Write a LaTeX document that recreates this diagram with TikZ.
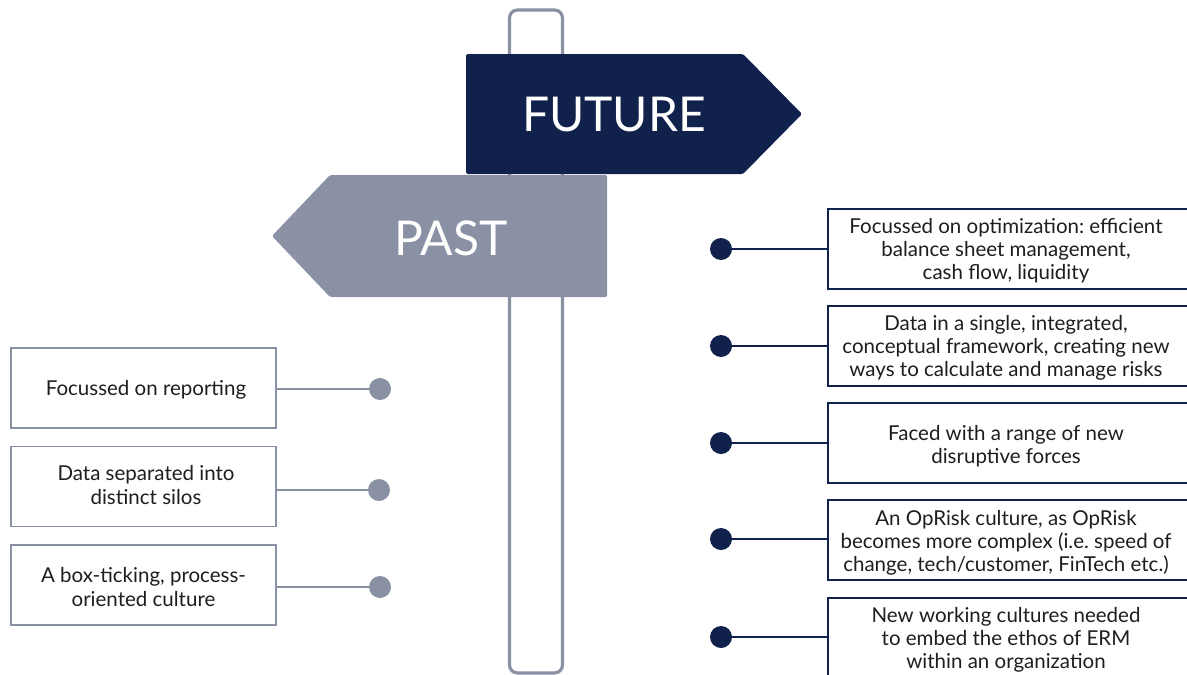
\documentclass[tikz,border=0pt]{standalone}
\usepackage{fontspec}
\setmainfont{Lato}
\definecolor{navy}{HTML}{10214B}
\definecolor{slate}{HTML}{8A91A5}
\definecolor{txt}{HTML}{1E1E1E}
\frenchspacing
\begin{document}
\begin{tikzpicture}[x=1pt,y=-1pt,
  lbox/.style={draw=slate, line width=1.4pt, fill=white, minimum width=265pt, minimum height=80pt, inner sep=0pt, align=center, text=txt, font=\fontsize{20.5}{23.5}\selectfont},
  ltext/.style={align=center, text=txt, inner sep=0pt, font=\fontsize{20.5}{23.5}\selectfont},
  rbox/.style={draw=navy, line width=1.6pt, fill=white, minimum width=372pt, minimum height=80pt, inner sep=0pt},
  rtext/.style={align=center, text=txt, inner sep=0pt, font=\fontsize{20.5}{23.2}\selectfont},
  ldot/.style={circle, fill=slate, minimum size=22pt, inner sep=0pt},
  rdot/.style={circle, fill=navy, minimum size=22pt, inner sep=0pt},
  lline/.style={draw=slate, line width=1.3pt},
  rline/.style={draw=navy, line width=1.3pt},
  signtext/.style={text=white, inner sep=0pt, font=\fontsize{48}{52}\selectfont}
]
\useasboundingbox (0,0) rectangle (1187,675);
\clip (0,0) rectangle (1187,675);
% post
\draw[slate, line width=3.2pt, rounded corners=8pt, fill=white] (509.5,10) rectangle (562.5,673);
% signs
\fill[navy, rounded corners=1.5pt] (466,54) -- (743,54) -- (802,114) -- (743,174) -- (466,174) -- cycle;
\fill[slate, rounded corners=1.5pt] (607,175) -- (330,175) -- (272,236) -- (330,297) -- (607,297) -- cycle;
\node[signtext] (fut) at (614,115) {FUTURE};
\node[signtext] (past) at (451,238) {PAST};
% left side
\node[lbox] (l1) at (143.5,388) {};
\node[lbox] (l2) at (143.5,486.5) {};
\node[lbox] (l3) at (143.5,585) {};
\node[ltext] (lt1) at (146,390) {Focussed on reporting};
\node[ltext] (lt2) at (146,485) {Data separated into\\distinct silos};
\node[ltext] (lt3) at (143.5,587) {A box-ticking, process-\\oriented culture};
\node[ldot] (ld1) at (380,389) {};
\node[ldot] (ld2) at (379,490) {};
\node[ldot] (ld3) at (380,587) {};
\draw[lline] (l1.east |- ld1) -- (ld1);
\draw[lline] (l2.east |- ld2) -- (ld2);
\draw[lline] (l3.east |- ld3) -- (ld3);
% right side
\node[rbox] (r1) at (1014,249) {};
\node[rbox] (r2) at (1014,346) {};
\node[rbox] (r3) at (1014,443) {};
\node[rbox] (r4) at (1014,540) {};
\node[rbox] (r5) at (1014,638) {};
\node[rtext] (t1) at (1006,251) {Focussed on optimization: efficient\\balance sheet management,\\cash flow, liquidity};
\node[rtext] (t2) at (1006,348) {Data in a single, integrated,\\conceptual framework, creating new\\ways to calculate and manage risks};
\node[rtext] (t3) at (1006,446) {Faced with a range of new\\disruptive forces};
\node[rtext] (t4) at (1006,543) {An OpRisk culture, as OpRisk\\becomes more complex (i.e. speed of\\change, tech/customer, FinTech etc.)};
\node[rtext] (t5) at (1006,640) {New working cultures needed\\to embed the ethos of ERM\\within an organization};
\node[rdot] (rd1) at (721,249) {};
\node[rdot] (rd2) at (721,346) {};
\node[rdot] (rd3) at (721,443) {};
\node[rdot] (rd4) at (721,539) {};
\node[rdot] (rd5) at (721,637) {};
\draw[rline] (rd1) -- (r1.west |- rd1);
\draw[rline] (rd2) -- (r2.west |- rd2);
\draw[rline] (rd3) -- (r3.west |- rd3);
\draw[rline] (rd4) -- (r4.west |- rd4);
\draw[rline] (rd5) -- (r5.west |- rd5);
\end{tikzpicture}
\end{document}
